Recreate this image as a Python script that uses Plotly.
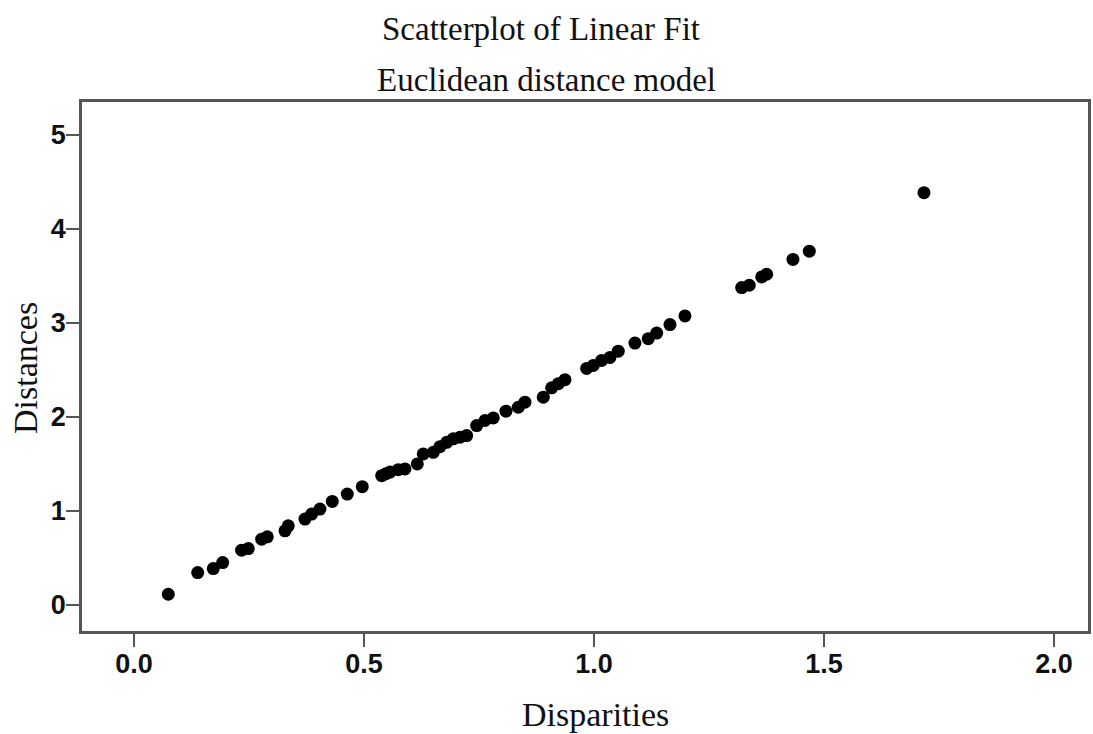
import plotly.graph_objects as go

disparities = [0.0746, 0.1385, 0.1724, 0.1928, 0.234, 0.2485, 0.2776, 0.2898, 0.3283, 0.3354,
               0.3717, 0.3863, 0.4043, 0.4311, 0.4637, 0.4963, 0.5385, 0.5478, 0.5565, 0.5746,
               0.5891, 0.6159, 0.6289, 0.6507, 0.6652, 0.6798, 0.6941, 0.7087, 0.7233, 0.745,
               0.763, 0.7811, 0.8087, 0.8354, 0.85, 0.8898, 0.908, 0.9224, 0.937, 0.9841,
               0.9985, 1.0167, 1.0348, 1.0528, 1.0891, 1.118, 1.1363, 1.1652, 1.1978, 1.3211,
               1.3376, 1.3646, 1.3754, 1.4326, 1.4681, 1.7174]
distances = [0.114, 0.344, 0.387, 0.451, 0.583, 0.600, 0.700, 0.725, 0.789, 0.842,
             0.914, 0.967, 1.020, 1.101, 1.180, 1.258, 1.375, 1.397, 1.413, 1.439,
             1.447, 1.500, 1.607, 1.624, 1.684, 1.730, 1.767, 1.784, 1.802, 1.908,
             1.962, 1.990, 2.061, 2.103, 2.157, 2.210, 2.310, 2.353, 2.396, 2.516,
             2.548, 2.601, 2.633, 2.700, 2.786, 2.833, 2.892, 2.982, 3.074, 3.376,
             3.401, 3.489, 3.518, 3.675, 3.763, 4.385]

x_ticks = [0.0, 0.5, 1.0, 1.5, 2.0]
x_tick_labels = ["0.0", "0.5", "1.0", "1.5", "2.0"]
y_ticks = [0, 1, 2, 3, 4, 5]
y_tick_labels = ["0", "1", "2", "3", "4", "5"]

title_lines = ["Scatterplot of Linear Fit", "Euclidean distance model"]
x_title = "Disparities"
y_title = "Distances"

W, H = 1093, 734
ML, MR, MT, MB = 82, 5, 102, 103
PW, PH = W - ML - MR, H - MT - MB

serif = "Liberation Serif, Times New Roman, serif"
txt_color = "#111111"
tickfont = dict(family="Liberation Sans, Arial, sans-serif", size=27,
                color=txt_color, weight="bold")


def px_x(p):
    return (p - ML) / PW


def px_y(p):
    return 1 - (p - MT) / PH


fig = go.Figure(go.Scatter(
    x=disparities, y=distances, mode="markers",
    marker=dict(size=13, color="black", line=dict(width=0)),
    hoverinfo="x+y", showlegend=False))

axis_common = dict(showgrid=False, zeroline=False, showline=True, mirror=True,
                   linecolor="#555555", linewidth=2.5, ticks="outside", ticklen=13,
                   tickwidth=2, tickcolor="#555555", tickfont=tickfont, automargin=False)

fig.update_layout(
    width=W, height=H,
    margin=dict(l=ML, r=MR, t=MT, b=MB),
    paper_bgcolor="white", plot_bgcolor="white",
    xaxis=dict(range=[-0.113, 2.074], tickvals=x_ticks, ticktext=x_tick_labels,
               ticklabelstandoff=-6, **axis_common),
    yaxis=dict(range=[-0.277, 5.35], tickvals=y_ticks, ticktext=y_tick_labels,
               ticklabelstandoff=-5, **axis_common),
    annotations=[
        dict(text=title_lines[0], x=px_x(541), y=px_y(29), xref="paper", yref="paper",
             xanchor="center", yanchor="middle", showarrow=False,
             font=dict(family=serif, size=33, color=txt_color)),
        dict(text=title_lines[1], x=px_x(546), y=px_y(80), xref="paper", yref="paper",
             xanchor="center", yanchor="middle", showarrow=False,
             font=dict(family=serif, size=33, color=txt_color)),
        dict(text=x_title, x=px_x(595), y=px_y(714), xref="paper", yref="paper",
             xanchor="center", yanchor="middle", showarrow=False,
             font=dict(family=serif, size=34, color=txt_color)),
        dict(text=y_title, x=px_x(25), y=px_y(368), xref="paper", yref="paper",
             xanchor="center", yanchor="middle", showarrow=False, textangle=-90,
             font=dict(family=serif, size=34, color=txt_color)),
    ],
)

fig.write_html("out.html", config={"displayModeBar": False},
               post_script="document.body.style.margin='0px';")
